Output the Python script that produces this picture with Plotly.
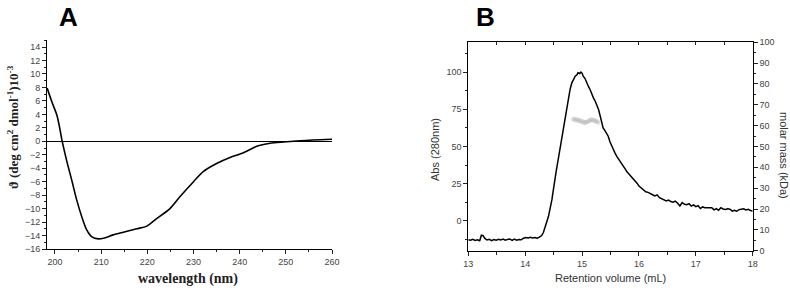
import plotly.graph_objects as go

# ---------------- Panel A: CD spectrum ----------------
wavelength_nm = [198.3, 199.3, 200.4, 200.9, 201.5, 202.5, 203.6, 204.7, 205.8, 206.9,
                 208.0, 209.4, 210.5, 212.6, 214.8, 217.7, 219.9, 222.0, 224.9, 227.1,
                 230.0, 232.1, 235.0, 237.9, 240.8, 243.7, 246.6, 249.5, 252.3, 255.9, 260.0]
ellipticity = [7.9, 5.9, 3.9, 2.4, 0.2, -2.8, -5.7, -8.7, -11.2, -13.2,
               -14.2, -14.5, -14.4, -13.9, -13.5, -13.0, -12.6, -11.5, -10.0, -8.2,
               -6.0, -4.5, -3.3, -2.4, -1.7, -0.75, -0.3, -0.1, 0.05, 0.2, 0.3]

# ---------------- Panel B: SEC-MALS ----------------
ret_volume = [13.00, 13.04, 13.08, 13.12, 13.16, 13.20, 13.23, 13.26, 13.29, 13.33,
              13.37, 13.41, 13.45, 13.49, 13.53, 13.57, 13.61, 13.65, 13.69, 13.73,
              13.77, 13.81, 13.85, 13.89, 13.93, 13.97, 14.01, 14.05, 14.09, 14.13,
              14.17, 14.21, 14.25, 14.29, 14.32, 14.35, 14.38, 14.41, 14.44, 14.47,
              14.50, 14.52, 14.55, 14.58, 14.61, 14.64, 14.67, 14.70, 14.73, 14.76,
              14.79, 14.82, 14.85, 14.88, 14.91, 14.93, 14.96, 14.98, 15.00, 15.02,
              15.05, 15.08, 15.11, 15.14, 15.17, 15.20, 15.23, 15.26, 15.29, 15.32,
              15.35, 15.37, 15.40, 15.43, 15.46, 15.49, 15.52, 15.55, 15.58, 15.61,
              15.64, 15.67, 15.70, 15.73, 15.76, 15.79, 15.82, 15.85, 15.88, 15.91,
              15.94, 15.97, 16.00, 16.04, 16.08, 16.12, 16.16, 16.20, 16.24, 16.28,
              16.32, 16.36, 16.40, 16.44, 16.48, 16.52, 16.56, 16.60, 16.64, 16.68,
              16.72, 16.76, 16.80, 16.84, 16.88, 16.92, 16.96, 17.00, 17.04, 17.08,
              17.12, 17.16, 17.20, 17.24, 17.28, 17.32, 17.36, 17.40, 17.44, 17.48,
              17.52, 17.56, 17.60, 17.64, 17.68, 17.72, 17.76, 17.80, 17.84, 17.88,
              17.92, 17.96, 18.00]
absorbance = [-12.6, -12.9, -12.4, -13.1, -12.7, -13.3, -9.6, -9.9, -11.8, -12.8,
              -12.4, -13.2, -12.5, -12.9, -12.3, -12.8, -12.2, -13.0, -12.4, -12.1,
              -13.1, -12.2, -12.9, -12.5, -12.7, -11.6, -11.2, -11.5, -11.0, -11.4,
              -11.1, -11.6, -10.9, -9.8, -7.8, -4.7, -0.5, 3.1, 8.5, 14.3,
              22.0, 27.8, 34.5, 41.2, 48.0, 54.7, 62.5, 70.3, 77.5, 83.8,
              88.5, 92.8, 95.4, 97.2, 98.2, 99.5, 99.0, 100.0, 99.3, 97.2,
              95.8, 92.8, 90.5, 88.3, 85.0, 82.7, 80.6, 78.2, 74.8, 70.3,
              65.0, 62.5, 60.8, 59.0, 56.9, 53.2, 50.2, 47.8, 45.6, 43.4,
              41.5, 39.6, 38.2, 36.7, 34.8, 33.0, 31.8, 30.6, 29.0, 27.5,
              26.4, 25.2, 23.4, 21.9, 20.8, 19.6, 19.2, 18.1, 17.6, 16.8,
              17.5, 15.6, 15.0, 14.3, 13.4, 14.0, 13.0, 12.6, 13.3, 11.9,
              10.1, 12.4, 11.2, 10.9, 11.6, 10.0, 10.8, 9.6, 10.2, 8.3,
              9.4, 8.9, 9.0, 8.8, 8.9, 7.4, 8.2, 7.1, 8.9, 8.0,
              7.7, 8.1, 7.9, 6.6, 7.2, 6.5, 7.6, 7.9, 8.2, 7.4,
              7.8, 7.0, 6.6]

mass_volume = [14.84, 14.855, 14.87, 14.885, 14.90, 14.915, 14.93, 14.945, 14.96, 14.975,
               14.99, 15.005, 15.02, 15.035, 15.05, 15.065, 15.08, 15.095, 15.11, 15.125,
               15.14, 15.155, 15.17, 15.185, 15.20, 15.215, 15.23, 15.245, 15.26, 15.275, 15.29]
molar_mass = [63.0, 63.4, 62.6, 63.2, 62.5, 63.1, 62.2, 62.8, 62.0, 62.6,
              61.7, 62.3, 61.4, 61.9, 61.2, 61.8, 61.5, 62.2, 61.9, 62.6,
              62.3, 63.0, 62.5, 63.1, 62.4, 62.8, 62.0, 62.4, 61.6, 62.0, 61.4]

W, H = 790, 288
def px(x): return x / W
def py(y): return 1 - y / H

fig = go.Figure()
fig.add_trace(go.Scatter(x=wavelength_nm, y=ellipticity, mode="lines",
                         line=dict(color="black", width=1.6, shape="spline", smoothing=0.8),
                         xaxis="x", yaxis="y", showlegend=False, hoverinfo="skip"))
fig.add_trace(go.Scatter(x=ret_volume, y=absorbance, mode="lines",
                         line=dict(color="black", width=1.5),
                         xaxis="x2", yaxis="y2", showlegend=False, hoverinfo="skip"))
fig.add_trace(go.Scatter(x=mass_volume, y=molar_mass, mode="markers",
                         marker=dict(symbol="circle-open", size=3, color="#b0b0b0",
                                     line=dict(width=0.5, color="#a8a8a8")),
                         xaxis="x3", yaxis="y3", showlegend=False, hoverinfo="skip"))

tickfont = dict(family="Liberation Sans, Arial", size=9, color="#444")
common = dict(showgrid=False, showline=True, linecolor="black", linewidth=1,
              ticks="outside", ticklen=4, tickwidth=1, tickcolor="#222",
              tickfont=tickfont, zeroline=False, automargin=False)

yA0, yA1 = 249, 40
yB0, yB1 = 250.7, 42.3
fig.update_layout(
    width=W, height=H, margin=dict(l=0, r=0, t=0, b=0, pad=0), autosize=False,
    paper_bgcolor="white", plot_bgcolor="white",
    xaxis=dict(domain=[px(47), px(332)], range=[198.27, 260.0],
               tickvals=[200, 210, 220, 230, 240, 250, 260],
               minor=dict(dtick=5, tick0=200, ticks="outside", ticklen=2, tickcolor="#222"),
               anchor="y", **common),
    yaxis=dict(domain=[py(yA0), py(yA1)], range=[-16, 15.05],
               tick0=-16, dtick=2,
               minor=dict(dtick=1, tick0=-16, ticks="outside", ticklen=2, tickcolor="#222"),
               anchor="x", **{k: v for k, v in common.items() if k != "zeroline"},
               zeroline=True, zerolinecolor="black", zerolinewidth=1.3),
    xaxis2=dict(domain=[px(468.3), px(752.7)], range=[13, 18], dtick=1, tick0=13,
                minor=dict(dtick=0.5, tick0=13, ticks="outside", ticklen=3, tickcolor="#222"),
                anchor="y2", **common),
    yaxis2=dict(domain=[py(yB0), py(yB1)], range=[-20, 120],
                tickvals=[0, 25, 50, 75, 100],
                minor=dict(tickvals=[-12.5, 12.5, 37.5, 62.5, 87.5, 112.5],
                           ticks="outside", ticklen=2, tickcolor="#222"),
                anchor="x2", **common),
    xaxis3=dict(overlaying="x2", side="top", range=[13, 18], anchor="y2",
                showgrid=False, showline=True, linecolor="black", linewidth=1,
                ticks="inside", ticklen=3, dtick=0.5, tick0=13, tickcolor="#222",
                showticklabels=False, zeroline=False, automargin=False),
    yaxis3=dict(overlaying="y2", side="right", range=[0, 100], anchor="x2",
                dtick=10, tick0=0,
                minor=dict(dtick=5, tick0=0, ticks="outside", ticklen=2, tickcolor="#222"),
                **common),
)

ann = []
ann.append(dict(x=px(68), y=py(0), yanchor="top", text="<b>A</b>", showarrow=False,
                font=dict(family="Liberation Sans, Arial", size=26, color="black")))
ann.append(dict(x=px(486), y=py(0), yanchor="top", text="<b>B</b>", showarrow=False,
                font=dict(family="Liberation Sans, Arial", size=26, color="black")))
ann.append(dict(x=px(13), y=py(127), textangle=-90, showarrow=False,
                text="<b>\u03d1 (deg cm<sup>2</sup> dmol<sup>-1</sup>)10<sup>-3</sup></b>",
                font=dict(family="Liberation Serif, Times New Roman", size=13, color="#222")))
ann.append(dict(x=px(188), y=py(279), showarrow=False, text="<b>wavelength (nm)</b>",
                font=dict(family="Liberation Serif, Times New Roman", size=14, color="#222")))
ann.append(dict(x=px(435), y=py(150), textangle=-90, showarrow=False, text="Abs (280nm)",
                font=dict(family="Liberation Sans, Arial", size=11, color="#333")))
ann.append(dict(x=px(784), y=py(155), textangle=90, showarrow=False, text="molar mass (kDa)",
                font=dict(family="Liberation Sans, Arial", size=11, color="#333")))
ann.append(dict(x=px(610), y=py(278), showarrow=False, text="Retention volume (mL)",
                font=dict(family="Liberation Sans, Arial", size=11, color="#333")))
for a in ann:
    a.setdefault("yanchor", "middle")
    a.update(xref="paper", yref="paper", xanchor="center")
fig.update_layout(annotations=ann)

fig.write_html("out.html", config={"displayModeBar": False},
               post_script="document.body.style.margin='0';document.body.style.overflow='hidden';")
